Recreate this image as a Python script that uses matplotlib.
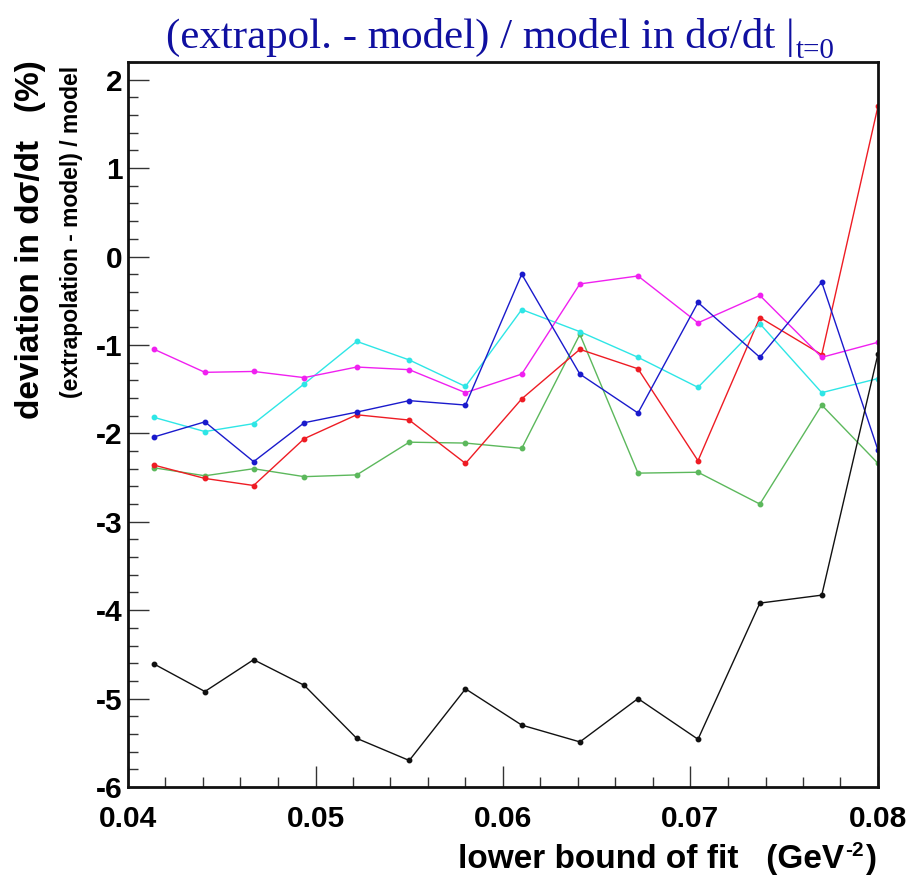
import matplotlib
matplotlib.use("Agg")
import matplotlib.pyplot as plt
from matplotlib.ticker import MultipleLocator

# lower bound of the fit range (GeV^-2)
t_low = [0.0414, 0.0441, 0.0467, 0.0494, 0.0522, 0.0550, 0.0580,
         0.0610, 0.0641, 0.0672, 0.0704, 0.0737, 0.0770, 0.0800]

# relative deviation of the extrapolated dsigma/dt at t=0 (%)
dev_magenta = [-1.05, -1.31, -1.30, -1.37, -1.25, -1.28, -1.54,
               -1.33, -0.31, -0.22, -0.75, -0.44, -1.14, -0.97]
dev_cyan = [-1.82, -1.98, -1.89, -1.44, -0.96, -1.17, -1.47,
            -0.60, -0.85, -1.14, -1.48, -0.76, -1.54, -1.38]
dev_blue = [-2.04, -1.87, -2.32, -1.88, -1.76, -1.63, -1.68,
            -0.20, -1.33, -1.77, -0.52, -1.14, -0.29, -2.19]
dev_red = [-2.36, -2.51, -2.59, -2.06, -1.79, -1.85, -2.34,
           -1.61, -1.05, -1.27, -2.31, -0.69, -1.11, 1.70]
dev_green = [-2.39, -2.48, -2.40, -2.49, -2.47, -2.10, -2.11,
             -2.17, -0.88, -2.45, -2.44, -2.80, -1.68, -2.34]
dev_black = [-4.61, -4.92, -4.56, -4.85, -5.45, -5.70, -4.89,
             -5.30, -5.49, -5.00, -5.46, -3.92, -3.83, -1.10]

series = [
    (dev_green, "#5cb85c"),
    (dev_red, "#ee1c24"),
    (dev_cyan, "#2ee6e6"),
    (dev_magenta, "#f020f0"),
    (dev_blue, "#1a1acc"),
    (dev_black, "#111111"),
]

x_ticks = [0.04, 0.05, 0.06, 0.07, 0.08]
x_ticklabels = ["0.04", "0.05", "0.06", "0.07", "0.08"]
y_ticks = [2, 1, 0, -1, -2, -3, -4, -5, -6]
y_ticklabels = ["2", "1", "0", "-1", "-2", "-3", "-4", "-5", "-6"]

W, H = 912, 880
fig = plt.figure(figsize=(W / 100, H / 100), dpi=100)
ax = fig.add_axes([128 / W, 1 - 787 / H, (878 - 128) / W, (787 - 62) / H])

for vals, col in series:
    ax.plot(t_low, vals, color=col, lw=1.0, marker="o", ms=3.2,
            mec=col, mfc=col, clip_on=True)

ax.set_xlim(0.04, 0.08)
ax.set_ylim(-6, 2.2)

sans = ["Liberation Sans", "DejaVu Sans"]
serif = ["Liberation Serif", "DejaVu Serif"]
ax.set_xticks(x_ticks)
ax.set_xticklabels(x_ticklabels, family=sans, weight="bold", fontsize=21.5)
ax.set_yticks(y_ticks)
ax.set_yticklabels(y_ticklabels, family=sans, weight="bold", fontsize=21.5)
ax.xaxis.set_minor_locator(MultipleLocator(0.002))
ax.yaxis.set_minor_locator(MultipleLocator(0.2))

ax.tick_params(which="both", direction="in", top=False, right=False,
               width=1.0, color="#333333")
ax.tick_params(which="major", length=15)
ax.tick_params(which="minor", length=7.5)
ax.tick_params(axis="x", which="major", pad=13)
ax.tick_params(axis="y", which="major", pad=4)

for sp in ax.spines.values():
    sp.set_linewidth(2.0)
    sp.set_color("#111111")

renderer = fig.canvas.get_renderer()
inv = fig.transFigure.inverted()


def left_edge(txt):
    bb = txt.get_window_extent(renderer)
    return inv.transform((bb.x0, bb.y0))[0]


def width_of(txt):
    bb = txt.get_window_extent(renderer)
    return bb.width / W


# x axis title, built right to left so the exponent sits between the parts
base_y = 1 - 868 / H
t_close = fig.text(876 / W, base_y, ")", ha="right", va="baseline",
                   family=sans, weight="bold", fontsize=24)
t_exp = fig.text(left_edge(t_close) - 1 / W, base_y + 12 / H, "-2",
                 ha="right", va="baseline", family=sans, weight="bold",
                 fontsize=15)
fig.text(left_edge(t_exp) - 1 / W, base_y, "lower bound of fit   (GeV",
         ha="right", va="baseline", family=sans, weight="bold", fontsize=24)

# y axis titles, aligned with the top of the axis
fig.text(31 / W, 1 - 60 / H, "deviation in d\u03c3/dt   (%)",
         rotation=90, ha="center", va="top", family=sans, weight="bold",
         fontsize=24)
fig.text(72 / W, 1 - 66 / H, "(extrapolation - model) / model",
         rotation=90, ha="center", va="top", family=sans, weight="bold",
         fontsize=16.5)

# title with its "t=0" subscript, centred as a whole
title_col = "#1010a0"
title_y = 1 - 48 / H
t_main = fig.text(0, title_y, "(extrapol. - model) / model in d\u03c3/dt |",
                  ha="left", va="baseline", family=serif, fontsize=31,
                  color=title_col)
t_sub = fig.text(0, title_y - 10 / H, "t=0", ha="left", va="baseline",
                 family=serif, fontsize=21, color=title_col)
total = width_of(t_main) + width_of(t_sub) + 1 / W
x0 = 500 / W - total / 2
t_main.set_x(x0)
t_sub.set_x(x0 + width_of(t_main) + 1 / W)

fig.savefig("out.png", dpi=100)
